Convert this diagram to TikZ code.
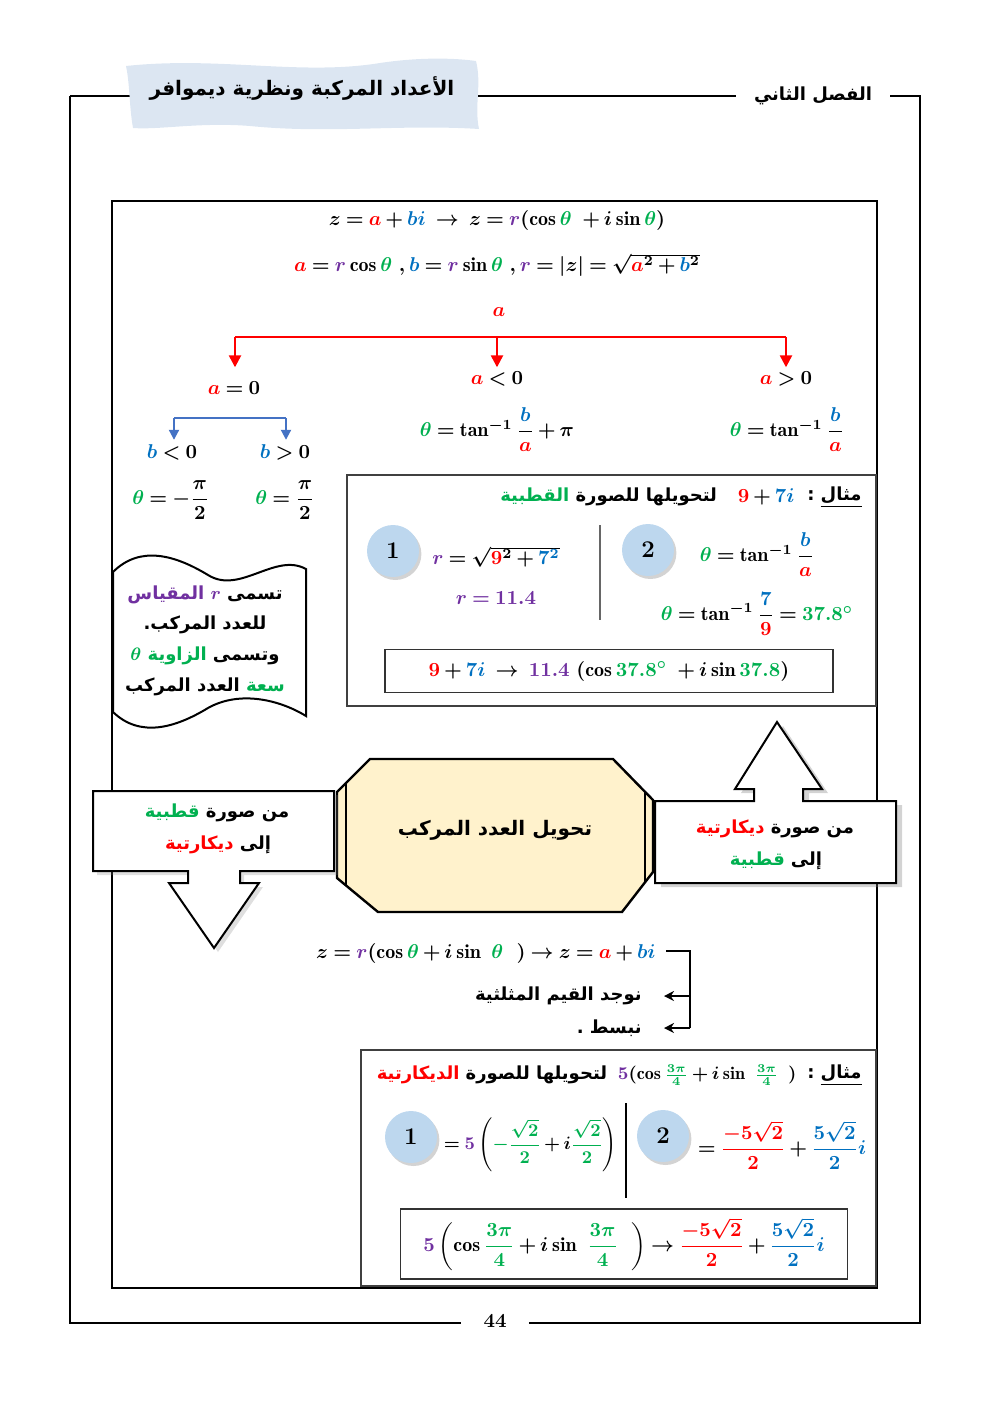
\documentclass[tikz,border=0pt]{standalone}
\usepackage{amsmath}
\usepackage{amssymb}
\usepackage{bm}
\usepackage{fontspec}
\usepackage{tikz}
\usetikzlibrary{positioning,shapes,arrows.meta,shadows,calc}
\newfontfamily\arabicfont[Script=Arabic]{DejaVu Sans}
\TeXXeTstate=1
\thickmuskip=4mu plus 2mu
\medmuskip=3mu plus 1mu
\definecolor{cRed}{HTML}{FF0000}
\definecolor{cBlue}{HTML}{0070C0}
\definecolor{cGreen}{HTML}{00B050}
\definecolor{cPurple}{HTML}{7030A0}
\definecolor{cTree}{HTML}{4472C4}
\definecolor{cBanner}{HTML}{DCE6F2}
\definecolor{cDot}{HTML}{BDD7EE}
\definecolor{cOct}{HTML}{FFF2CC}
% one colour per Arabic run, runs written left to right
\newcommand{\artxt}[1]{{\arabicfont\bfseries\beginR #1\endR}}
\newcommand{\mA}{{\color{cRed}a}}
\newcommand{\mB}{{\color{cBlue}b}}
\newcommand{\mR}{{\color{cPurple}r}}
\newcommand{\mT}{{\color{cGreen}\theta}}
\tikzset{
    frameLine/.style={line width=1pt, draw=black},
    mathTxt/.style={font=\normalsize\boldmath, inner sep=2pt},
    arTxt/.style={font=\small, align=center, inner sep=2pt},
    stepDot/.style={circle, fill=cDot, minimum size=26pt, font=\large\bfseries,
        drop shadow={opacity=0.35, shadow xshift=1.2pt, shadow yshift=-1.5pt}},
    exBox/.style={draw=black!75, line width=0.6pt},
    resBox/.style={draw=black!80, line width=0.6pt, minimum width=#1},
    calloutBox/.style={draw, fill=white, line width=1pt, line join=miter},
    % Arrows
    redArr/.style={-{Triangle[length=6pt,width=6pt]}, draw=cRed, line width=1.2pt},
    blueArr/.style={-{Triangle[length=5pt,width=5pt]}, draw=cTree, line width=1pt},
    bkArr/.style={-{Stealth[length=5pt,width=5pt]}, line width=1pt}
}
\begin{document}
\begin{tikzpicture}[x=0.5pt, y=-0.5pt]
\useasboundingbox (0,0) rectangle (992,1403);

% page frame
\coordinate (tl) at (70,96);
\coordinate (tr) at (920,96);
\coordinate (bl) at (70,1323);
\coordinate (br) at (920,1323);
\node[arTxt, inner xsep=9pt] (chap) at (813,96) {\artxt{الفصل الثاني}};
\node[font=\bfseries, inner xsep=11pt] (pg) at (495,1321) {44};
\draw[frameLine] (tl) -- (bl) -- (bl -| pg.west);
\draw[frameLine] (pg.east |- br) -- (br) -- (tr) -- (chap.east);
\draw[frameLine] (chap.west) -- (tl);
\fill[cBanner] (126,66) .. controls (220,56) and (300,76) .. (380,63)
    .. controls (420,57) and (455,58) .. (476,61) .. controls (482,85) and (474,105) .. (479,129)
    .. controls (400,124) and (330,134) .. (250,126) .. controls (200,122) and (160,130) .. (133,128)
    .. controls (129,105) and (130,85) .. cycle;
\node[arTxt, font=\normalsize] (title) at (302,88) {\artxt{الأعداد المركبة ونظرية ديموافر}};

\draw[frameLine] (112,201) rectangle (877,1288);

% formulas
\node[mathTxt] (polar) at (497,220) {$z = \mA + {\color{cBlue}bi} \;\rightarrow\; z = \mR(\cos\mT\ + i\sin\mT)$};
\node[mathTxt] (parts) at (497,265) {$\mA = \mR\cos\mT\ ,\mB = \mR\sin\mT\ ,\mR = |z| = \sqrt{\mA^2+\mB^2}$};

% tree on a
\node[mathTxt] (aTop) at (499,312) {$\mA$};
\coordinate (barL) at (235,337);
\coordinate (barM) at (497,337);
\coordinate (barR) at (786,337);
\node[mathTxt] (aZero) at (234,388) {$\mA = 0$};
\node[mathTxt] (aNeg) at (497,379) {$\mA < 0$};
\node[mathTxt] (aPos) at (786,379) {$\mA > 0$};
\draw[cRed, line width=1.2pt] (barL) -- (barR);
\draw[redArr] (barL) -- (barL |- aNeg.north);
\draw[redArr] (barM) -- (aNeg.north);
\draw[redArr] (barR) -- (aPos.north);

\coordinate (bBarL) at (174,418);
\coordinate (bBarR) at (286,418);
\node[mathTxt] (bNeg) at (172,452) {$\mB < 0$};
\node[mathTxt] (bPos) at (285,452) {$\mB > 0$};
\draw[cTree, line width=1pt] (bBarL) -- (bBarR);
\draw[blueArr] (bBarL) -- (bBarL |- bNeg.north);
\draw[blueArr] (bBarR) -- (bBarR |- bPos.north);

\node[mathTxt] (thNeg) at (171,500) {$\mT = -\dfrac{\pi}{2}$};
\node[mathTxt] (thPos) at (285,500) {$\mT = \dfrac{\pi}{2}$};
\node[mathTxt] (thPi) at (497,430) {$\mT = \tan^{-1}\dfrac{\mB}{\mA} + \pi$};
\node[mathTxt] (thAt) at (787,430) {$\mT = \tan^{-1}\dfrac{\mB}{\mA}$};

% scroll
\filldraw[fill=white, line width=1pt] (113,572) .. controls (140,545) and (175,555) .. (208,575)
    .. controls (240,595) and (275,552) .. (306,569) -- (306,716)
    .. controls (280,700) and (240,690) .. (208,708) .. controls (175,728) and (140,738) .. (113,712) -- cycle;
\node[arTxt] (sc1) at (205,595) {\textcolor{cPurple}{\artxt{المقياس}\ $\bm{r}$} \artxt{تسمى}};
\node[arTxt] (sc2) at (205,625) {\artxt{للعدد المركب.}};
\node[arTxt] (sc3) at (205,656) {\textcolor{cGreen}{$\bm{\theta}$ \artxt{الزاوية}} \artxt{وتسمى}};
\node[arTxt] (sc4) at (205,687) {\artxt{العدد المركب} \textcolor{cGreen}{\artxt{سعة}}};

% example 1
\draw[exBox] (347,475) rectangle (876,706);
\node[arTxt, anchor=east] (ex1t) at (866,497) {\artxt{\underline{مثال} :}};
\node[mathTxt, left=2pt of ex1t] (ex1z) {$\color{cRed}9 \color{black}+ \color{cBlue}7i$};
\node[arTxt, left=6pt of ex1z] (ex1w) {\textcolor{cGreen}{\artxt{القطبية}} \artxt{لتحويلها للصورة}};
\node[stepDot] (s1a) at (393,551) {1};
\node[stepDot] (s2a) at (648,550) {2};
\node[mathTxt] (rEq) at (496,557) {$\mR = \sqrt{{\color{cRed}9}^2 + {\color{cBlue}7^2}}$};
\node[mathTxt] (rVal) at (496,598) {$\color{cPurple} r = 11.4$};
\draw[black!60, line width=1pt] (600,525) -- (600,620);
\node[mathTxt] (thGen) at (757,555) {$\mT = \tan^{-1}\dfrac{\mB}{\mA}$};
\node[mathTxt] (thVal) at (757,614) {$\mT = \tan^{-1}\dfrac{\color{cBlue}7}{\color{cRed}9} = {\color{cGreen}37.8^\circ}$};
\node[mathTxt, resBox=224pt, minimum height=21.5pt] (res1) at (609,671)
    {${\color{cRed}9} + {\color{cBlue}7i} \;\rightarrow\; {\color{cPurple}11.4}\ (\cos{\color{cGreen}37.8^\circ}\ + i\sin{\color{cGreen}37.8})$};

% converting
\filldraw[fill=cOct, line width=1.2pt, line join=miter] (370,759) -- (613,759) -- (653,800) -- (653,872)
    -- (622,912) -- (378,912) -- (337,878) -- (337,792) -- cycle;
\draw[line width=1pt] (346,783) -- (346,885);
\draw[line width=1pt] (645,792) -- (645,882);
\node[arTxt, font=\normalsize] (oct) at (495,830) {\artxt{تحويل العدد المركب}};

\path[calloutBox, drop shadow={opacity=0.25, shadow xshift=2pt, shadow yshift=-2pt}]
    (93,791) -- (334,791) -- (334,871) -- (240,871) -- (240,883) -- (259,883) -- (214,948)
    -- (169,883) -- (188,883) -- (188,871) -- (93,871) -- cycle;
\node[arTxt] (lcTop) at (217,813) {\textcolor{cGreen}{\artxt{قطبية}} \artxt{من صورة}};
\node[arTxt] (lcBot) at (218,845) {\textcolor{cRed}{\artxt{ديكارتية}} \artxt{إلى}};

\path[calloutBox, drop shadow={opacity=0.35, shadow xshift=3pt, shadow yshift=-2pt}]
    (655,801) -- (754,801) -- (754,789) -- (735,789) -- (777,722) -- (822,789) -- (803,789)
    -- (803,801) -- (896,801) -- (896,883) -- (655,883) -- cycle;
\node[arTxt] (rcTop) at (775,829) {\textcolor{cRed}{\artxt{ديكارتية}} \artxt{من صورة}};
\node[arTxt] (rcBot) at (776,861) {\textcolor{cGreen}{\artxt{قطبية}} \artxt{إلى}};

% back to cartesian
\node[mathTxt, anchor=east] (zBack) at (660,953) {$z = \mR(\cos\mT + i\sin\ \mT\ \ ) \rightarrow z = \mA + {\color{cBlue}bi}$};
\coordinate (brTop) at (690,951);
\node[arTxt, anchor=east, inner xsep=11pt] (trig) at (664,996) {\artxt{نوجد القيم المثلثية}};
\node[arTxt, anchor=east, inner xsep=11pt] (simp) at (664,1028) {\artxt{نبسط .}};
\draw[line width=1pt] ([xshift=3pt]zBack.east |- brTop) -- (brTop) -- (brTop |- simp.east);
\draw[bkArr] (brTop |- trig.east) -- (trig.east);
\draw[bkArr] (brTop |- simp.east) -- (simp.east);

% example 2
\draw[exBox] (361,1050) rectangle (876,1286);
\node[arTxt, anchor=east] (ex2t) at (866,1075) {\artxt{\underline{مثال} :}};
\node[mathTxt, font=\small\boldmath, left=1pt of ex2t] (ex2z)
    {${\color{cPurple}5}(\cos{\color{cGreen}\tfrac{3\pi}{4}} + i\sin\ {\color{cGreen}\tfrac{3\pi}{4}}\ \,)$};
\node[arTxt, left=1pt of ex2z] (ex2w) {\textcolor{cRed}{\artxt{الديكارتية}} \artxt{لتحويلها للصورة}};
\node[stepDot] (s1b) at (411,1137) {1};
\node[stepDot] (s2b) at (663,1136) {2};
\node[mathTxt, anchor=west, scale=0.9] (cart1) at (440,1145)
    {$= {\color{cPurple}5}\left({\color{cGreen}-\dfrac{\sqrt{2}}{2}} + i{\color{cGreen}\dfrac{\sqrt{2}}{2}}\right)$};
\draw[line width=0.8pt] (626,1103) -- (626,1198);
\node[mathTxt] (cart2) at (782,1145)
    {$= {\color{cRed}\dfrac{-5\sqrt{2}}{2}} + {\color{cBlue}\dfrac{5\sqrt{2}}{2}i}$};
\node[mathTxt, resBox=223.5pt, minimum height=35pt] (res2) at (624,1244)
    {${\color{cPurple}5}\left(\cos{\color{cGreen}\dfrac{3\pi}{4}} + i\sin\ {\color{cGreen}\dfrac{3\pi}{4}}\ \ \right) \rightarrow {\color{cRed}\dfrac{-5\sqrt{2}}{2}} + {\color{cBlue}\dfrac{5\sqrt{2}}{2}i}$};
\end{tikzpicture}
\end{document}
